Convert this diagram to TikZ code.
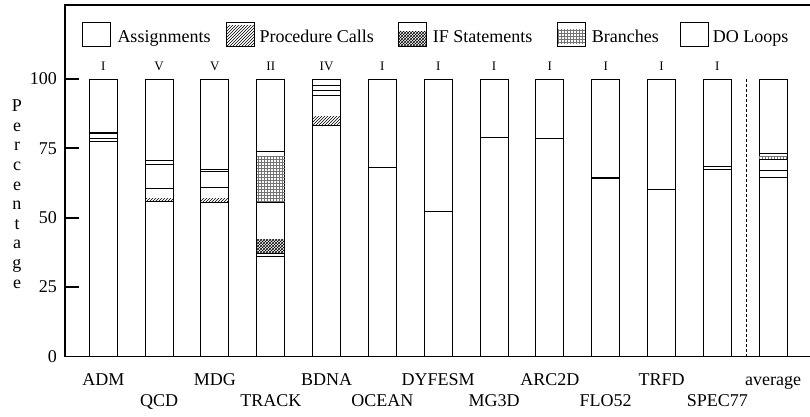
\documentclass[tikz,border=0pt]{standalone}
\usepackage{fontspec}
\setmainfont{Liberation Serif}
\usetikzlibrary{patterns}
\newcommand\barx[1]{\fpeval{89.3+55.82*(#1)}}
\begin{document}
\begin{tikzpicture}[x=1pt,y=-1pt,
  barbox/.style={draw=black,line width=0.9pt},
  seg/.style={line width=0.9pt},
  axisline/.style={line width=1.8pt},
  lbl/.style={font=\fontsize{18}{20}\selectfont, inner sep=0pt},
  numlbl/.style={font=\fontsize{13}{15}\selectfont, inner sep=0pt, anchor=base},
  legbox/.style={draw=black,line width=0.9pt},
  brpat/.style={pattern=grid,pattern color=black!55}]
\useasboundingbox (0,0) rectangle (810,417);
% axes frame
\coordinate (tr) at (810,4.7);
\coordinate (tl) at (65,4.7);
\coordinate (bl) at (65,356.5);
\coordinate (br) at (810,356.5);
\draw[axisline] (tr) -- (tl) -- (bl) -- (br);
% ticks and labels
\foreach \v in {25,50,75,100}{
  \coordinate (tk\v) at (65,{356.5-2.775*\v});
  \draw[axisline] (tk\v) -- ++(14,0);
  \node[lbl,anchor=east] (tl\v) at (57,{356.5-2.775*\v}) {\v};
}
\node[lbl,anchor=east] (tl0) at (57,356.5) {0};
% vertical axis title
\foreach \ch [count=\k from 0] in {P,e,r,c,e,n,t,a,g,e}
  \node[lbl,anchor=base] (pc\k) at (17,{111.7+19.6*\k}) {\ch};
% bars
\foreach \i/\nm/\nu in {0/ADM/I,1/QCD/V,2/MDG/V,3/TRACK/II,4/BDNA/IV,5/OCEAN/I,6/DYFESM/I,7/MG3D/I,8/ARC2D/I,9/FLO52/I,10/TRFD/I,11/SPEC77/I,12/average/}{
  \pgfmathsetmacro\bx{89.3+55.82*\i}
  \draw[barbox] (\bx,79) rectangle ++(28,277.5);
  \node[numlbl] (num\i) at (\bx+14,71) {\nu};
  \pgfmathsetmacro\ly{ifthenelse(mod(\i,2)==0,385,406.5)}
  \node[lbl,anchor=base] (name\i) at (\bx+14,\ly) {\nm};
}
% pattern fills
\fill[pattern=north east lines] (\barx{1},198) rectangle ++(28,3.7);
\fill[pattern=north east lines] (\barx{2},198.3) rectangle ++(28,3.7);
\fill[brpat] (\barx{3},156.7) rectangle ++(28,46);
\fill[pattern=crosshatch] (\barx{3},239) rectangle ++(28,14.5);
\fill[pattern=north east lines] (\barx{4},116) rectangle ++(28,9.7);
\fill[brpat] (\barx{12},156.7) rectangle ++(28,3);
% segment boundaries
\foreach \i/\y in {0/132,0/133.3,0/138.7,0/141,
  1/160.7,1/164.3,1/188.3,1/201.7,
  2/169,2/171,2/187.7,2/202,
  3/151,3/202.7,3/253.5,3/256.7,
  4/85,4/90.7,4/95.3,4/125.7,
  5/167.7,6/211,7/137.3,8/138.3,9/177.2,9/178.8,10/189.3,
  11/166,11/169.3,
  12/153.3,12/159.7,12/170,12/177.3}{
  \draw[seg] ({89.3+55.82*\i},\y) -- ++(28,0);
}
% separator
\coordinate (sepT) at (746.3,79.3);
\coordinate (sepB) at (746.3,356.5);
\draw[line width=0.8pt,dash pattern=on 3pt off 2pt] (sepT) -- (sepB);
% legend
\draw[legbox] (82.7,22) rectangle ++(28,24.5);
\node[lbl,anchor=base west] (lg1) at (117.3,42.7) {Assignments};
\fill[pattern=north east lines] (226,26) rectangle ++(28,20.5);
\draw[legbox] (226,22) rectangle ++(28,24.5);
\node[lbl,anchor=base west] (lg2) at (259.3,42.7) {Procedure Calls};
\fill[pattern=crosshatch] (398.7,31.5) rectangle ++(28,15);
\draw[legbox] (398.7,22) rectangle ++(28,24.5);
\node[lbl,anchor=base west] (lg3) at (432.7,42.7) {IF Statements};
\fill[brpat] (557.3,30) rectangle ++(28,14);
\draw[legbox] (557.3,22) rectangle ++(28,24.5);
\node[lbl,anchor=base west] (lg4) at (591.7,42.7) {Branches};
\draw[legbox] (680,22) rectangle ++(28,24.5);
\node[lbl,anchor=base west] (lg5) at (712.7,42.7) {DO Loops};
\end{tikzpicture}
\end{document}
